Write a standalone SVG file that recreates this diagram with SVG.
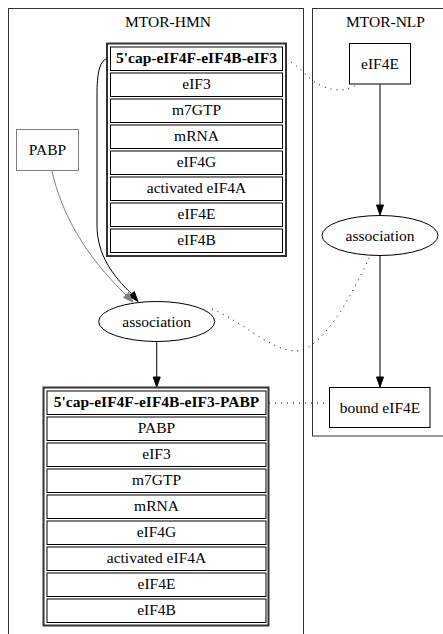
<svg xmlns="http://www.w3.org/2000/svg" width="443" height="634" viewBox="0 0 443 634">
<style>
text{font-family:"Liberation Serif","Times New Roman",serif;font-size:15.5px;fill:#000;text-anchor:middle}
.b{font-weight:bold}
.cl{fill:none;stroke:#333;stroke-width:1}
.cell{fill:#fff;stroke:#000;stroke-width:1}
.outer{fill:#fff;stroke:#333;stroke-width:2}
.box{fill:#fff;stroke:#000;stroke-width:1}
.edge{fill:none;stroke:#000;stroke-width:1}
.dot{fill:none;stroke:#000;stroke-width:1;stroke-dasharray:1,5}
</style>
<rect width="443" height="634" fill="#fff"/>
<g id="cluster_hmn">
<rect class="cl" x="8.5" y="8.5" width="295" height="640"/>
<text x="168" y="26.5">MTOR-HMN</text>
</g>
<g id="cluster_nlp">
<rect class="cl" x="312.5" y="8.5" width="140" height="427.5"/>
<text x="385.5" y="26.5">MTOR-NLP</text>
</g>
<g id="edges">
<path class="edge" d="M109,58.5 C99,58.5 97,75 97,95 L97,225 C97,255 113,276 131.6,293.8"/>
<polygon points="128.9,296 134.3,291.6 138,301.5" fill="#000" stroke="#000"/>
<path class="edge" style="stroke:#808080" d="M52,171 C62,215 85,255 126,295"/>
<polygon points="123.5,297.5 128.5,292.5 133,302" fill="#808080" stroke="#808080"/>
<line class="edge" x1="380" y1="84" x2="380" y2="205"/>
<polygon points="376.5,205 383.5,205 380,215" fill="#000" stroke="#000"/>
<line class="edge" x1="380" y1="255.5" x2="380" y2="377"/>
<polygon points="376.5,377 383.5,377 380,387" fill="#000" stroke="#000"/>
<line class="edge" x1="156.7" y1="341.5" x2="156.7" y2="377"/>
<polygon points="153.2,377 160.2,377 156.7,387" fill="#000" stroke="#000"/>
<path class="dot" d="M286,59 C300,66 308,80 322,86 C335,92 348,91 356,85"/>
<path class="dot" d="M212,309 C240,320 270,350 295,351 C320,352 350,300 370,256"/>
<path class="dot" d="M269,403 L329,403"/>
</g>
<g id="complex_top">
<rect class="outer" x="107" y="43.5" width="179" height="212.5"/>
<rect class="cell" x="110.5" y="47" width="172" height="23.5"/>
<text class="b" x="196.5" y="63">5'cap-eIF4F-eIF4B-eIF3</text>
<rect class="cell" x="110.5" y="73" width="172" height="23.5"/>
<text x="196.5" y="89">eIF3</text>
<rect class="cell" x="110.5" y="99" width="172" height="23.5"/>
<text x="196.5" y="115">m7GTP</text>
<rect class="cell" x="110.5" y="125" width="172" height="23.5"/>
<text x="196.5" y="141">mRNA</text>
<rect class="cell" x="110.5" y="151" width="172" height="23.5"/>
<text x="196.5" y="167">eIF4G</text>
<rect class="cell" x="110.5" y="177" width="172" height="23.5"/>
<text x="196.5" y="193">activated eIF4A</text>
<rect class="cell" x="110.5" y="203" width="172" height="23.5"/>
<text x="196.5" y="219">eIF4E</text>
<rect class="cell" x="110.5" y="229" width="172" height="23.5"/>
<text x="196.5" y="245">eIF4B</text>
</g>
<g id="pabp">
<rect x="16.5" y="129.5" width="62" height="41" fill="#fff" stroke="#808080"/>
<text x="47.5" y="155">PABP</text>
</g>
<g id="eif4e">
<rect class="box" x="349.5" y="43.5" width="61" height="40.5"/>
<text x="380" y="69">eIF4E</text>
</g>
<g id="assoc_nlp">
<ellipse cx="380" cy="235.5" rx="58" ry="20" fill="#fff" stroke="#000"/>
<text x="380" y="240.5">association</text>
</g>
<g id="assoc_hmn">
<ellipse cx="156.7" cy="321.5" rx="58" ry="20" fill="#fff" stroke="#000"/>
<text x="156.7" y="326.5">association</text>
</g>
<g id="bound_eif4e">
<rect class="box" x="329.5" y="387.5" width="100.5" height="40"/>
<text x="380" y="412.5">bound eIF4E</text>
</g>
<g id="complex_bottom">
<rect class="outer" x="43.5" y="387.5" width="225" height="238"/>
<rect class="cell" x="47" y="391" width="219" height="23.5"/>
<text class="b" x="156.5" y="407">5'cap-eIF4F-eIF4B-eIF3-PABP</text>
<rect class="cell" x="47" y="417" width="219" height="23.5"/>
<text x="156.5" y="433">PABP</text>
<rect class="cell" x="47" y="443" width="219" height="23.5"/>
<text x="156.5" y="459">eIF3</text>
<rect class="cell" x="47" y="469" width="219" height="23.5"/>
<text x="156.5" y="485">m7GTP</text>
<rect class="cell" x="47" y="495" width="219" height="23.5"/>
<text x="156.5" y="511">mRNA</text>
<rect class="cell" x="47" y="521" width="219" height="23.5"/>
<text x="156.5" y="537">eIF4G</text>
<rect class="cell" x="47" y="547" width="219" height="23.5"/>
<text x="156.5" y="563">activated eIF4A</text>
<rect class="cell" x="47" y="573" width="219" height="23.5"/>
<text x="156.5" y="589">eIF4E</text>
<rect class="cell" x="47" y="599" width="219" height="23.5"/>
<text x="156.5" y="615">eIF4B</text>
</g>
</svg>
